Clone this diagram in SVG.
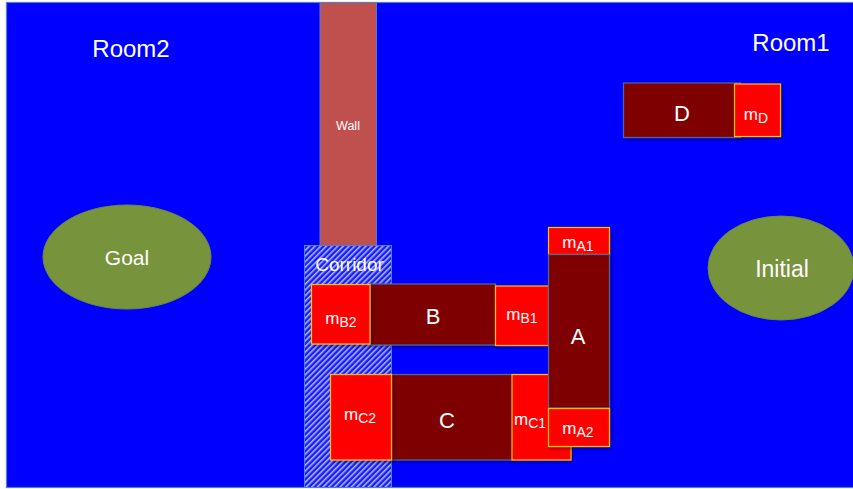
<svg xmlns="http://www.w3.org/2000/svg" width="853" height="489" viewBox="0 0 853 489">
<defs>
<pattern id="hatch" width="4" height="4" patternUnits="userSpaceOnUse" patternTransform="rotate(45)">
<rect width="4" height="4" fill="#1a1aff"/>
<rect width="1.6" height="4" fill="#a8b8ff"/>
</pattern>
<filter id="sh" x="-10%" y="-10%" width="130%" height="130%">
<feDropShadow dx="2" dy="2" stdDeviation="1.5" flood-color="#000" flood-opacity="0.35"/>
</filter>
</defs>
<style>
.dark{fill:#7f0000;stroke:#4f6a9a;stroke-width:1.2;filter:url(#sh)}
.m{fill:#ff0000;stroke:#ffc000;stroke-width:1.2;filter:url(#sh)}
.t{fill:#ffffff;font-family:"Liberation Sans",Arial,sans-serif;text-anchor:middle}
.ell{fill:#77933c;stroke:#6a8a3a;stroke-width:1}
.ml{font-size:17px}
.sub{font-size:14px}
</style>
<rect x="0" y="0" width="853" height="489" fill="#ffffff"/>
<rect id="background" x="6.5" y="2.5" width="848" height="485" fill="#0000ff" stroke="#4f81bd" stroke-width="1.2"/>
<g id="room2"><text class="t" x="131" y="57" font-size="24">Room2</text></g>
<g id="room1"><text class="t" x="791" y="51" font-size="24">Room1</text></g>
<g id="wall">
<rect x="320" y="2.5" width="56.5" height="243" fill="#c0504d" stroke="#4f81bd" stroke-width="1"/>
<text class="t" x="348" y="130" font-size="12.5">Wall</text>
</g>
<g id="corridor">
<rect x="304.5" y="245.5" width="87" height="242" fill="url(#hatch)" stroke="#4f81bd" stroke-width="1"/>
<text class="t" x="349.5" y="271" font-size="19">Corridor</text>
</g>
<g id="goal">
<ellipse class="ell" cx="127" cy="257" rx="84" ry="52"/>
<text class="t" x="127" y="265" font-size="21">Goal</text>
</g>
<g id="initial">
<ellipse class="ell" cx="781" cy="268" rx="73" ry="52"/>
<text class="t" x="782" y="277" font-size="23">Initial</text>
</g>
<g id="D">
<rect class="dark" x="623.5" y="83" width="117" height="54.5"/>
<text class="t" x="682" y="121" font-size="22">D</text>
</g>
<g id="mD">
<rect class="m" x="734.5" y="84" width="46" height="52.5"/>
<text class="t ml" x="756" y="120">m<tspan class="sub" dy="3">D</tspan></text>
</g>
<g id="B">
<rect class="dark" x="370" y="284" width="125.5" height="61"/>
<text class="t" x="433" y="324" font-size="22">B</text>
</g>
<g id="mB2">
<rect class="m" x="311.5" y="284.5" width="58.5" height="59.5"/>
<text class="t ml" x="341" y="324">m<tspan class="sub" dy="3">B2</tspan></text>
</g>
<g id="mB1">
<rect class="m" x="495.5" y="286" width="53" height="59.5"/>
<text class="t ml" x="522" y="320">m<tspan class="sub" dy="3">B1</tspan></text>
</g>
<g id="C">
<rect class="dark" x="390" y="374.5" width="124" height="85.5"/>
<text class="t" x="447" y="428" font-size="22">C</text>
</g>
<g id="mC2">
<rect class="m" x="330.5" y="374.5" width="61" height="85.5"/>
<text class="t ml" x="360" y="420">m<tspan class="sub" dy="3">C2</tspan></text>
</g>
<g id="mC1">
<rect class="m" x="512" y="374.5" width="59" height="85.5"/>
<text class="t ml" x="530" y="425">m<tspan class="sub" dy="3">C1</tspan></text>
</g>
<g id="mA1">
<rect class="m" x="548.5" y="227.5" width="61" height="27"/>
<text class="t ml" x="578" y="248">m<tspan class="sub" dy="3">A1</tspan></text>
</g>
<g id="A">
<rect class="dark" x="548.5" y="254.5" width="61" height="153.5"/>
<text class="t" x="578" y="344" font-size="22">A</text>
</g>
<g id="mA2">
<rect class="m" x="548.5" y="408.5" width="61" height="38"/>
<text class="t ml" x="578" y="434">m<tspan class="sub" dy="3">A2</tspan></text>
</g>
<g id="connectors"></g>
</svg>
